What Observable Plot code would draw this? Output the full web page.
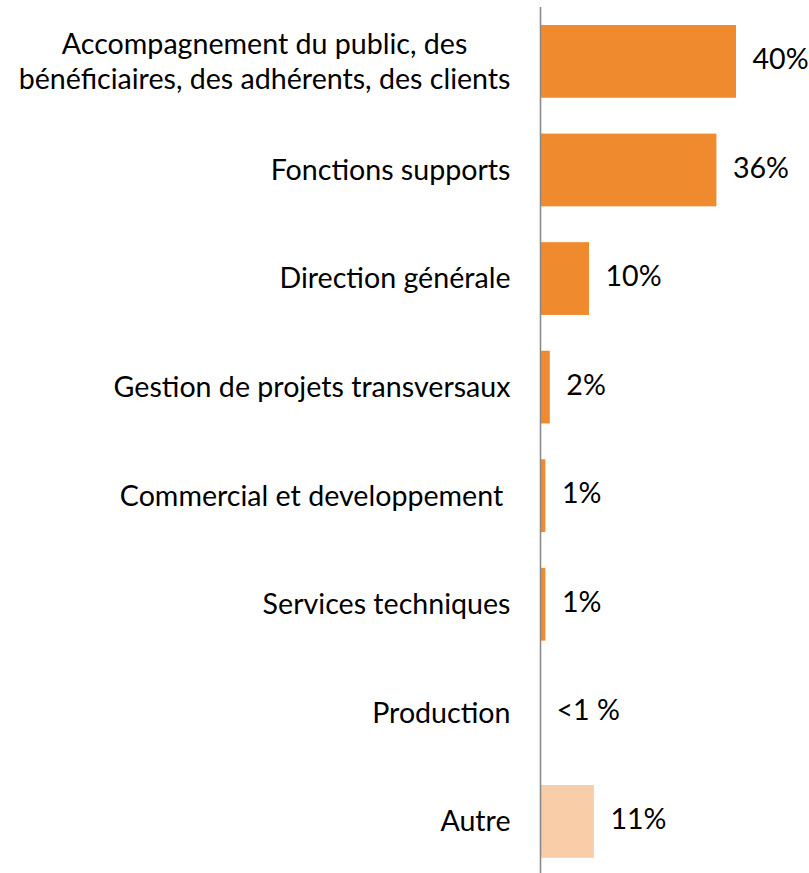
<!DOCTYPE html>
<html>
<head>
<meta charset="utf-8">
<script src="https://cdn.jsdelivr.net/npm/d3@7"></script>
<script src="https://cdn.jsdelivr.net/npm/@observablehq/plot@0.6"></script>
<style>
  html, body { margin: 0; padding: 0; background: #fff; overflow: hidden; }
</style>
</head>
<body>
<div id="chart"></div>
<script>
const categories = [
  "Accompagnement du public, des\nbénéficiaires, des adhérents, des clients",
  "Fonctions supports",
  "Direction générale",
  "Gestion de projets transversaux",
  "Commercial et developpement\u00a0",
  "Services techniques",
  "Production",
  "Autre"
];
const values = [40, 36, 10, 2, 1.1, 1.1, 0, 11];
const valueLabels = ["40%", "36%", "10%", "2%", "1%", "1%", "<1 %", "11%"];
const groups = ["main", "main", "main", "main", "main", "main", "main", "other"];

const data = categories.map((c, i) => ({ cat: c, value: values[i], label: valueLabels[i], group: groups[i] }));

const font = "Lato, 'Liberation Sans', sans-serif";

const chart = Plot.plot({
  width: 809,
  height: 873,
  marginLeft: 540,
  marginRight: 24,
  marginTop: 7,
  marginBottom: 0,
  style: { fontFamily: font, background: "#fff" },
  x: { domain: [0, 50], axis: null },
  y: { domain: categories, range: [7.1, 875.7], paddingInner: 0.33, paddingOuter: 0.165, round: false, axis: null },
  color: { domain: ["main", "other"], range: ["#F08A2F", "#F8CDA8"] },
  marks: [
    Plot.barX(data, { x: "value", y: "cat", fill: "group" }),
    Plot.ruleX([0], { stroke: "#8a8a8a", strokeWidth: 1.6 }),
    Plot.text(data, {
      x: 0, y: "cat", text: "cat", textAnchor: "end", dx: -30, dy: -2,
      fontSize: 28.6, lineHeight: 1.24, fill: "#000"
    }),
    Plot.text(data, {
      x: "value", y: "cat", text: "label", textAnchor: "start", dx: 16, dy: -2,
      fontSize: 28.6, fill: "#000"
    })
  ]
});
document.getElementById("chart").appendChild(chart);

// Wrapped category labels: lines centred on each other, block right-aligned
chart.querySelectorAll("text").forEach(t => {
  const spans = t.querySelectorAll("tspan");
  if (spans.length > 1) {
    let maxW = 0;
    spans.forEach(s => { maxW = Math.max(maxW, s.getComputedTextLength()); });
    t.setAttribute("text-anchor", "middle");
    t.style.textAnchor = "middle";
    spans.forEach(s => s.setAttribute("x", -maxW / 2));
  }
});
</script>
</body>
</html>
